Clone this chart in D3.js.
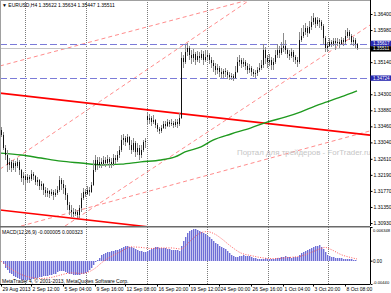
<!DOCTYPE html>
<html><head><meta charset="utf-8">
<script src="https://cdn.jsdelivr.net/npm/d3@7"></script>
<style>
html,body{margin:0;padding:0;background:#fff;}
svg{display:block;font-family:"Liberation Sans",Arial,sans-serif;}
</style></head><body>
<svg id="c" width="391" height="293"></svg>
<script>
// ---------- DATA ----------
const symbolTitle = "EURUSD,H4";
const lastQuote = ["1.35622","1.35634","1.35447","1.35511"];
// H4 bars: [open, high, low, close]
const ohlc = [
[1.3336,1.3344,1.3318,1.3323],[1.3323,1.3331,1.3284,1.3289],[1.3289,1.3297,1.3258,1.3271],[1.3271,1.3284,1.3226,1.3245],
[1.3245,1.3263,1.3232,1.3253],[1.3253,1.3258,1.3226,1.3237],[1.3237,1.3258,1.3232,1.3250],[1.3250,1.3255,1.3226,1.3242],
[1.3242,1.3263,1.3237,1.3253],[1.3253,1.3258,1.3219,1.3232],[1.3232,1.3234,1.3200,1.3211],[1.3211,1.3226,1.3192,1.3216],
[1.3216,1.3221,1.3179,1.3206],[1.3206,1.3221,1.3198,1.3213],[1.3213,1.3219,1.3198,1.3208],[1.3208,1.3232,1.3203,1.3221],
[1.3221,1.3226,1.3206,1.3216],[1.3216,1.3219,1.3192,1.3200],[1.3200,1.3213,1.3190,1.3206],[1.3206,1.3208,1.3179,1.3190],
[1.3190,1.3203,1.3179,1.3195],[1.3195,1.3198,1.3166,1.3179],[1.3179,1.3187,1.3161,1.3172],[1.3172,1.3185,1.3161,1.3177],
[1.3177,1.3179,1.3158,1.3169],[1.3169,1.3182,1.3164,1.3174],[1.3174,1.3179,1.3153,1.3166],[1.3166,1.3182,1.3161,1.3172],
[1.3172,1.3190,1.3166,1.3179],[1.3179,1.3216,1.3174,1.3206],[1.3206,1.3211,1.3179,1.3195],[1.3195,1.3206,1.3169,1.3185],
[1.3185,1.3192,1.3153,1.3166],[1.3166,1.3172,1.3127,1.3140],[1.3140,1.3148,1.3114,1.3127],[1.3127,1.3140,1.3109,1.3122],
[1.3122,1.3132,1.3109,1.3117],[1.3117,1.3130,1.3111,1.3122],[1.3122,1.3127,1.3106,1.3114],[1.3114,1.3140,1.3106,1.3132],
[1.3132,1.3172,1.3122,1.3158],[1.3158,1.3185,1.3153,1.3174],[1.3174,1.3182,1.3161,1.3169],[1.3169,1.3190,1.3166,1.3179],
[1.3179,1.3187,1.3164,1.3174],[1.3174,1.3200,1.3172,1.3192],[1.3192,1.3258,1.3190,1.3232],[1.3232,1.3271,1.3226,1.3258],
[1.3258,1.3266,1.3232,1.3245],[1.3245,1.3266,1.3237,1.3253],[1.3253,1.3263,1.3237,1.3247],[1.3247,1.3268,1.3242,1.3258],
[1.3258,1.3266,1.3240,1.3250],[1.3250,1.3271,1.3245,1.3261],[1.3261,1.3266,1.3237,1.3253],[1.3253,1.3263,1.3237,1.3247],
[1.3247,1.3274,1.3242,1.3263],[1.3263,1.3271,1.3247,1.3258],[1.3258,1.3281,1.3253,1.3271],[1.3271,1.3295,1.3263,1.3284],
[1.3284,1.3323,1.3279,1.3310],[1.3310,1.3326,1.3297,1.3315],[1.3315,1.3321,1.3295,1.3305],[1.3305,1.3326,1.3302,1.3318],
[1.3318,1.3321,1.3284,1.3297],[1.3297,1.3310,1.3274,1.3284],[1.3284,1.3315,1.3279,1.3302],[1.3302,1.3308,1.3266,1.3279],
[1.3279,1.3302,1.3271,1.3289],[1.3289,1.3297,1.3258,1.3271],[1.3271,1.3297,1.3263,1.3284],[1.3284,1.3310,1.3279,1.3305],
[1.3305,1.3315,1.3289,1.3308],
[1.3373,1.3381,1.3352,1.3363],[1.3363,1.3378,1.3352,1.3368],[1.3368,1.3373,1.3347,1.3357],[1.3357,1.3376,1.3352,1.3363],
[1.3363,1.3365,1.3342,1.3349],[1.3349,1.3355,1.3331,1.3339],[1.3339,1.3344,1.3326,1.3334],[1.3334,1.3349,1.3329,1.3342],
[1.3342,1.3360,1.3339,1.3352],[1.3352,1.3360,1.3339,1.3347],[1.3347,1.3365,1.3344,1.3357],[1.3357,1.3363,1.3344,1.3352],
[1.3352,1.3365,1.3347,1.3355],[1.3355,1.3360,1.3342,1.3349],[1.3349,1.3365,1.3344,1.3357],[1.3357,1.3365,1.3342,1.3352],
[1.3352,1.3381,1.3347,1.3368],[1.3368,1.3541,1.3365,1.3525],[1.3525,1.3533,1.3499,1.3514],[1.3514,1.3559,1.3509,1.3541],
[1.3541,1.3564,1.3530,1.3551],[1.3551,1.3556,1.3520,1.3533],[1.3533,1.3546,1.3509,1.3525],[1.3525,1.3548,1.3514,1.3535],
[1.3535,1.3541,1.3507,1.3520],[1.3520,1.3543,1.3514,1.3530],[1.3530,1.3541,1.3512,1.3525],[1.3525,1.3546,1.3520,1.3535],
[1.3535,1.3543,1.3507,1.3520],[1.3520,1.3546,1.3514,1.3527],[1.3527,1.3546,1.3520,1.3533],[1.3533,1.3538,1.3509,1.3520],
[1.3520,1.3527,1.3499,1.3512],[1.3512,1.3520,1.3488,1.3504],[1.3504,1.3512,1.3480,1.3493],[1.3493,1.3509,1.3483,1.3499],
[1.3499,1.3504,1.3475,1.3488],[1.3488,1.3499,1.3473,1.3483],[1.3483,1.3496,1.3473,1.3491],[1.3491,1.3499,1.3475,1.3488],
[1.3488,1.3493,1.3470,1.3480],[1.3480,1.3488,1.3467,1.3475],[1.3475,1.3486,1.3467,1.3478],[1.3478,1.3483,1.3465,1.3473],
[1.3473,1.3504,1.3470,1.3488],[1.3488,1.3527,1.3486,1.3514],[1.3514,1.3533,1.3504,1.3520],[1.3520,1.3525,1.3499,1.3509],
[1.3509,1.3525,1.3501,1.3514],[1.3514,1.3520,1.3493,1.3504],[1.3504,1.3512,1.3483,1.3493],[1.3493,1.3509,1.3486,1.3499],
[1.3499,1.3504,1.3478,1.3488],[1.3488,1.3496,1.3475,1.3483],[1.3483,1.3493,1.3473,1.3486],[1.3486,1.3501,1.3478,1.3493],
[1.3493,1.3512,1.3488,1.3499],[1.3499,1.3520,1.3493,1.3507],[1.3507,1.3561,1.3499,1.3546],[1.3546,1.3554,1.3509,1.3525],
[1.3525,1.3533,1.3499,1.3514],[1.3514,1.3535,1.3504,1.3520],[1.3520,1.3527,1.3493,1.3507],[1.3507,1.3525,1.3493,1.3514],
[1.3514,1.3546,1.3509,1.3533],[1.3533,1.3561,1.3525,1.3546],[1.3546,1.3556,1.3525,1.3538],[1.3538,1.3567,1.3533,1.3551],
[1.3551,1.3590,1.3541,1.3556],[1.3556,1.3572,1.3535,1.3546],[1.3546,1.3551,1.3525,1.3535],[1.3535,1.3546,1.3520,1.3530],
[1.3530,1.3551,1.3525,1.3541],[1.3541,1.3546,1.3514,1.3527],[1.3527,1.3533,1.3509,1.3520],[1.3520,1.3527,1.3501,1.3514],
[1.3514,1.3593,1.3509,1.3572],[1.3572,1.3603,1.3567,1.3582],[1.3582,1.3611,1.3577,1.3593],[1.3593,1.3616,1.3585,1.3603],
[1.3603,1.3609,1.3580,1.3590],[1.3590,1.3622,1.3588,1.3606],[1.3606,1.3635,1.3598,1.3619],[1.3619,1.3643,1.3611,1.3630],
[1.3630,1.3632,1.3603,1.3614],[1.3614,1.3632,1.3609,1.3624],[1.3624,1.3630,1.3603,1.3619],[1.3619,1.3624,1.3598,1.3609],
[1.3609,1.3614,1.3561,1.3577],[1.3577,1.3582,1.3541,1.3551],[1.3551,1.3567,1.3541,1.3556],[1.3556,1.3577,1.3554,1.3567],
[1.3567,1.3572,1.3554,1.3561],[1.3561,1.3577,1.3556,1.3569],[1.3569,1.3577,1.3546,1.3564],[1.3564,1.3577,1.3556,1.3567],
[1.3567,1.3575,1.3551,1.3561],[1.3561,1.3580,1.3559,1.3572],[1.3572,1.3577,1.3556,1.3567],[1.3567,1.3598,1.3561,1.3582],
[1.3582,1.3603,1.3577,1.3593],[1.3593,1.3598,1.3572,1.3582],[1.3582,1.3588,1.3559,1.3567],[1.3567,1.3580,1.3556,1.3572],
[1.3572,1.3577,1.3551,1.3562],[1.35622,1.35634,1.35447,1.35511]
];
// Moving average (green) read at bar indices
const maIdx = [0,10,20,30,40,50,60,70,80,87,92,100,106,115,125,133,142,150,157,163,170,178];
const maVal = [1.3276,1.3271,1.3263,1.3255,1.3250,1.3245,1.3247,1.3253,1.3258,1.3266,1.3279,1.3292,1.3310,1.3326,1.3342,1.3357,1.3370,1.3384,1.3399,1.3410,1.3423,1.3439];
// MACD(12,26,9) main histogram, one per bar
const macdHist = [
-0.00010,-0.00058,-0.00144,-0.00182,-0.00230,-0.00250,-0.00288,-0.00307,-0.00326,-0.00355,
-0.00365,-0.00371,-0.00371,-0.00365,-0.00359,-0.00355,-0.00346,-0.00336,-0.00326,-0.00317,
-0.00307,-0.00298,-0.00288,-0.00284,-0.00278,-0.00273,-0.00259,-0.00244,-0.00221,-0.00202,
-0.00192,-0.00198,-0.00211,-0.00230,-0.00246,-0.00259,-0.00269,-0.00275,-0.00273,-0.00269,
-0.00259,-0.00244,-0.00230,-0.00211,-0.00182,-0.00144,-0.00086,-0.00029,0.00010,0.00058,
0.00106,0.00125,0.00140,0.00154,0.00167,0.00179,0.00186,0.00192,0.00205,0.00225,
0.00244,0.00259,0.00269,0.00269,0.00259,0.00250,0.00236,0.00217,0.00202,0.00182,
0.00173,0.00159,0.00154,0.00182,0.00207,0.00225,0.00240,0.00255,0.00250,0.00240,
0.00236,0.00230,0.00230,0.00221,0.00211,0.00205,0.00202,0.00198,0.00192,0.00182,
0.00269,0.00365,0.00442,0.00518,0.00557,0.00586,0.00595,0.00591,0.00576,0.00557,
0.00538,0.00518,0.00499,0.00470,0.00442,0.00403,0.00365,0.00326,0.00307,0.00278,
0.00259,0.00240,0.00211,0.00182,0.00144,0.00115,0.00086,0.00067,0.00067,0.00086,
0.00096,0.00100,0.00096,0.00086,0.00081,0.00073,0.00058,0.00044,0.00035,0.00025,
0.00025,0.00038,0.00044,0.00038,0.00033,0.00033,0.00038,0.00044,0.00052,0.00058,
0.00063,0.00077,0.00083,0.00077,0.00067,0.00058,0.00063,0.00073,0.00077,0.00115,
0.00144,0.00163,0.00186,0.00198,0.00211,0.00230,0.00250,0.00269,0.00282,0.00288,
0.00259,0.00211,0.00154,0.00115,0.00086,0.00077,0.00067,0.00058,0.00052,0.00048,
0.00044,0.00038,0.00035,0.00033,0.00029,0.00025,0.00019,0.00013,-0.000005
];
// MACD signal line read at bar indices
const sigIdx = [0,5,10,15,20,25,30,35,40,45,48,50,55,60,65,70,75,80,85,90,95,100,103,107,110,115,120,125,130,135,140,145,150,155,160,162,165,170,175,178];
const sigVal = [-0.00010,-0.00154,-0.00259,-0.00317,-0.00336,-0.00317,-0.00269,-0.00230,-0.00240,-0.00192,-0.00115,-0.00048,0.00077,0.00173,0.00259,0.00250,0.00230,0.00240,0.00240,0.00221,0.00384,0.00528,0.00547,0.00499,0.00422,0.00269,0.00144,0.00096,0.00058,0.00038,0.00048,0.00063,0.00086,0.00154,0.00230,0.00250,0.00211,0.00115,0.00058,0.000323];
// Price axis ticks
const priceTicks = [1.36400,1.35980,1.35140,1.34300,1.33880,1.33460,1.33040,1.32610,1.32190,1.31770,1.31350,1.30930];
const hLevels = [1.35617,1.34724];   // blue dashed horizontal lines
const bidPrice = 1.35511;
// Time axis
const timeIdx = [0,15,31,47,62,78,94,109,125,141,156,172];
const timeLabels = ["29 Aug 2013","2 Sep 12:00","5 Sep 04:00","9 Sep 16:00","12 Sep 08:00","16 Sep 20:00","19 Sep 12:00","24 Sep 00:00","26 Sep 16:00","1 Oct 04:00","3 Oct 20:00","8 Oct 08:00"];
const weekStartIdx = [12,42.5,73,103,133.5,163.5];
// Trend lines: [idx1, price1, idx2, price2]
const redLines = [[-0.5,1.3433,184.5,1.3323],[-0.5,1.3127,184.5,1.3017]];
const dashLines = [[-0.5,1.3504,124,1.3677],[-0.5,1.3234,124.5,1.3677],[32,1.3085,184.5,1.3611],[10,1.3085,184.5,1.3334]];
const macdTicks = [0.006348,0,-0.0044];
const macdTickLabels = ["0.006348","0.00","-0.00440"];

// ---------- DRAW ----------
const svg = d3.select('#c');
const AX = 370, MB = 226, MT = 227, MBOT = 284;
const x = d3.scaleLinear().domain([-0.5,184.5]).range([0,AX]);
const y = d3.scaleLinear().domain([1.30852,1.36766]).range([MB,0]);
const ym = d3.scaleLinear().domain([-0.0044,0.006348]).range([MBOT,MT]);
const FS = 5;

svg.append('rect').attr('width',391).attr('height',293).attr('fill','#fff');
const defs = svg.append('defs');
defs.append('clipPath').attr('id','cm').append('rect').attr('x',0).attr('y',0).attr('width',AX).attr('height',MB);
defs.append('clipPath').attr('id','cd').append('rect').attr('x',0).attr('y',MT).attr('width',AX).attr('height',MBOT-MT);

// vertical dotted grid
const grid = svg.append('g').attr('stroke','#7a7a7a').attr('stroke-dasharray','1,1').attr('stroke-width',1);
weekStartIdx.forEach(d=>{
  const xx = Math.round(x(d))+0.5;
  grid.append('line').attr('x1',xx).attr('x2',xx).attr('y1',0).attr('y2',MB);
  grid.append('line').attr('x1',xx).attr('x2',xx).attr('y1',MT).attr('y2',MBOT);
});

const main = svg.append('g').attr('clip-path','url(#cm)');
// dashed pink lines
dashLines.forEach(l=>{
  main.append('line').attr('x1',x(l[0])).attr('y1',y(l[1])).attr('x2',x(l[2])).attr('y2',y(l[3]))
    .attr('stroke','#ff8c8c').attr('stroke-width',1).attr('stroke-dasharray','4,3');
});
// red trend lines
redLines.forEach(l=>{
  main.append('line').attr('x1',x(l[0])).attr('y1',y(l[1])).attr('x2',x(l[2])).attr('y2',y(l[3]))
    .attr('stroke','#ff0000').attr('stroke-width',1.6);
});
// MA
main.append('path').datum(maIdx.map((d,i)=>[d,maVal[i]]))
  .attr('d',d3.line().x(d=>x(d[0])).y(d=>y(d[1])).curve(d3.curveMonotoneX))
  .attr('fill','none').attr('stroke','#1f9a1f').attr('stroke-width',1.4);
// horizontal levels
hLevels.forEach(p=>{
  main.append('line').attr('x1',0).attr('x2',AX).attr('y1',Math.round(y(p))+0.5).attr('y2',Math.round(y(p))+0.5)
    .attr('stroke','#7b7bd8').attr('stroke-width',1).attr('stroke-dasharray','7,3');
});
main.append('line').attr('x1',0).attr('x2',AX).attr('y1',Math.round(y(bidPrice))+0.5).attr('y2',Math.round(y(bidPrice))+0.5)
  .attr('stroke','#c4c4c4').attr('stroke-width',1);
// watermark
svg.append('text').attr('x',237).attr('y',155).attr('font-size',7.9).attr('fill','#c6c6c6')
  .text('Портал для трейдеров - ForTrader.ru');
// candles
const cg = main.append('g').attr('shape-rendering','crispEdges');
ohlc.forEach((b,i)=>{
  const xx = Math.round(x(i));
  cg.append('line').attr('x1',xx+0.5).attr('x2',xx+0.5).attr('y1',y(b[1])).attr('y2',y(b[2]))
    .attr('stroke','#8a8a8a').attr('stroke-width',1);
  const top = Math.min(y(b[0]),y(b[3])), h = Math.max(1,Math.abs(y(b[0])-y(b[3])));
  cg.append('rect').attr('x',xx).attr('y',top).attr('width',1.2).attr('height',h).attr('fill','#111');
});

// MACD panel
const md = svg.append('g').attr('clip-path','url(#cd)').attr('shape-rendering','crispEdges');
macdHist.forEach((v,i)=>{
  const xx = Math.round(x(i));
  const y0 = ym(0), y1 = ym(v);
  md.append('rect').attr('x',xx-0.5).attr('y',Math.min(y0,y1)).attr('width',2).attr('height',Math.max(0.5,Math.abs(y1-y0)))
    .attr('fill','#c6c6f0');
  md.append('line').attr('x1',xx+0.5).attr('x2',xx+0.5).attr('y1',y0).attr('y2',y1).attr('stroke','#6e6ed6');
});
svg.append('path').datum(sigIdx.map((d,i)=>[d,sigVal[i]]))
  .attr('d',d3.line().x(d=>x(d[0])).y(d=>ym(d[1])).curve(d3.curveMonotoneX))
  .attr('fill','none').attr('stroke','#ff5a5a').attr('stroke-width',1).attr('stroke-dasharray','1,1.5');

// texts
svg.append('text').attr('x',2).attr('y',6.8).attr('font-size',FS).attr('fill','#000')
  .text('▼ ' + symbolTitle + '  ' + lastQuote.join(' '));
svg.append('text').attr('x',2).attr('y',233.5).attr('font-size',FS).attr('fill','#000')
  .text('MACD(12,26,9) ' + macdHist[macdHist.length-1].toFixed(6) + ' ' + sigVal[sigVal.length-1].toFixed(6));
svg.append('text').attr('x',2).attr('y',282.5).attr('font-size',FS).attr('fill','#000')
  .text('MetaTrader 4, © 2001-2013, MetaQuotes Software Corp.');

// frames
svg.append('line').attr('x1',0).attr('x2',AX).attr('y1',0.5).attr('y2',0.5).attr('stroke','#a0a0a0');
svg.append('line').attr('x1',0.5).attr('x2',0.5).attr('y1',0).attr('y2',MBOT).attr('stroke','#a0a0a0');
svg.append('rect').attr('x',0).attr('y',MB).attr('width',AX).attr('height',1.5).attr('fill','#6a6a6a');

// price axis
const pa = svg.append('g').attr('transform',`translate(${AX+0.5},0)`)
  .call(d3.axisRight(y).tickValues(priceTicks).tickSize(2).tickSizeOuter(0).tickFormat(d3.format('.5f')));
pa.select('.domain').attr('d',`M0,0V${MB}`).attr('stroke','#000');
pa.selectAll('.tick line').attr('stroke','#000');
pa.selectAll('.tick text').attr('x',3).attr('font-size',FS).attr('fill','#000').attr('font-family','Liberation Sans, Arial, sans-serif');

// highlighted price labels
function tag(p, bg, dy){
  const yy = y(p) + dy;
  svg.append('rect').attr('x',AX+0.5).attr('y',yy-2.6).attr('width',20.5).attr('height',5.4).attr('fill',bg);
  svg.append('text').attr('x',AX+3).attr('y',yy).attr('dy','0.34em').attr('font-size',4.6).attr('fill','#fff').text(d3.format('.5f')(p));
}
tag(hLevels[0],'#2a2ab0',-0.6);
tag(bidPrice,'#000',0.8);
tag(hLevels[1],'#2a2ab0',0);

// MACD axis
const ma = svg.append('g').attr('transform',`translate(${AX+0.5},0)`)
  .call(d3.axisRight(ym).tickValues(macdTicks).tickSize(2).tickSizeOuter(0).tickFormat((d,i)=>macdTickLabels[i]));
ma.select('.domain').attr('d',`M0,${MT}V${MBOT}`).attr('stroke','#000');
ma.selectAll('.tick line').attr('stroke','#000');
ma.selectAll('.tick text').attr('x',2.5).attr('font-size',(d,i)=> i===1 ? 4.6 : 4.1).attr('fill','#000').attr('font-family','Liberation Sans, Arial, sans-serif')
  .attr('dy',(d,i)=> i===0 ? '1.2em' : (i===2 ? '-0.2em' : '0.35em'));

// time axis
const ta = svg.append('g').attr('transform',`translate(0,${MBOT+0.5})`)
  .call(d3.axisBottom(x).tickValues(timeIdx).tickSize(2).tickSizeOuter(0).tickFormat((d,i)=>timeLabels[i]));
ta.select('.domain').attr('d',`M0,0H${AX}`).attr('stroke','#000');
ta.selectAll('.tick line').attr('stroke','#000');
ta.selectAll('.tick text').attr('text-anchor','start').attr('x',1).attr('y',3).attr('dy','0.71em')
  .attr('font-size',FS).attr('fill','#000').attr('font-family','Liberation Sans, Arial, sans-serif');
</script></body></html>
